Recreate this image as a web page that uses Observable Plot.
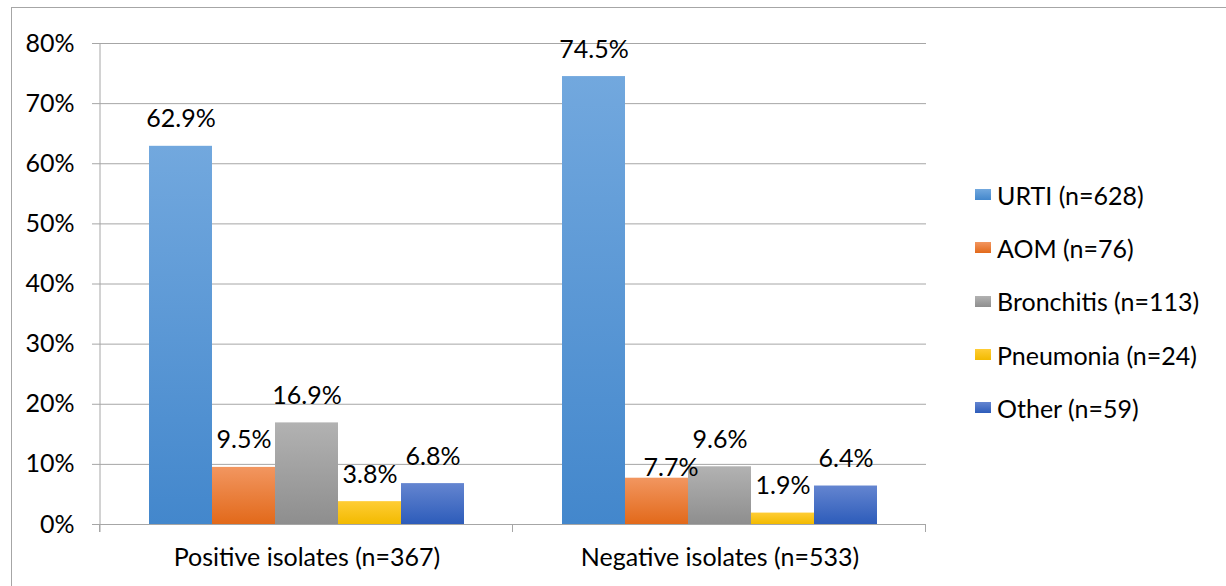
<!DOCTYPE html>
<html><head><meta charset="utf-8">
<script src="https://cdn.jsdelivr.net/npm/d3@7"></script>
<script src="https://cdn.jsdelivr.net/npm/@observablehq/plot@0.6"></script>
<style>
html,body{margin:0;padding:0;background:#fff;}
#wrap{position:relative;width:1226px;height:586px;overflow:hidden;font-family:Lato,"Liberation Sans",sans-serif;color:#000;}
#border{position:absolute;left:11px;top:7px;width:1400px;height:800px;border-left:1px solid #a6a6a6;border-top:1px solid #a6a6a6;}
#chart{position:absolute;left:0;top:0;}
#legend{position:absolute;left:975px;top:168px;}
.row{display:flex;align-items:center;height:53.3px;font-size:25px;white-space:nowrap;}
.sw{width:16px;height:11px;margin-right:6px;}
</style></head>
<body>
<div id="wrap"><div id="border"></div><div id="chart"></div><div id="legend"></div></div>
<script>
const groups = ["Positive isolates (n=367)", "Negative isolates (n=533)"];
const series = ["URTI (n=628)", "AOM (n=76)", "Bronchitis (n=113)", "Pneumonia (n=24)", "Other (n=59)"];
const positiveValues = [62.9, 9.5, 16.9, 3.8, 6.8];
const negativeValues = [74.5, 7.7, 9.6, 1.9, 6.4];
const yTicks = [0, 10, 20, 30, 40, 50, 60, 70, 80];
const colorsTop = ["#72a8de", "#f29660", "#b2b2b2", "#ffcd35", "#6485d0"];
const colorsBottom = ["#4387cc", "#e2691a", "#8e8e8e", "#f2ba00", "#2d5cba"];

const valuesByGroup = [positiveValues, negativeValues];
const rows = groups.flatMap((g, gi) => series.map((s, si) => ({group: g, series: s, value: valuesByGroup[gi][si]})));
const isNudged = d => d.group === groups[1] && d.series === series[1];
const fmt = d => d.value.toFixed(1) + "%";
const font = "Lato, 'Liberation Sans', sans-serif";

const chart = Plot.plot({
  width: 1226, height: 586,
  marginLeft: 100, marginRight: 300, marginTop: 43, marginBottom: 62,
  style: {fontFamily: font, color: "#000", background: "transparent"},
  fx: {domain: groups, padding: 0},
  x: {domain: series, paddingInner: 0, paddingOuter: 0.76, axis: null},
  y: {domain: [0, 80]},
  color: {domain: series, range: series.map((s, i) => `url(#grad${i})`)},
  marks: [
    Plot.gridY(yTicks, {stroke: "#a6a6a6", strokeOpacity: 1}),
    Plot.axisY(yTicks, {tickSize: 8, tickPadding: 18, stroke: "#a6a6a6", tickFormat: d => d + "%", fontSize: 25, label: null}),
    Plot.axisFx({anchor: "bottom", tickSize: 0, tickPadding: 24, fontSize: 25, label: null}),
    Plot.barY(rows, {fx: "group", x: "series", y: "value", fill: "series"}),
    Plot.ruleY([0], {stroke: "#a6a6a6"}),
    Plot.text(rows, {filter: d => !isNudged(d), fx: "group", x: "series", y: "value", text: fmt, dy: -27, lineAnchor: "middle", fontSize: 25, fill: "#000"}),
    Plot.text(rows, {filter: isNudged, fx: "group", x: "series", y: "value", text: fmt, dx: 14, dy: -10, lineAnchor: "middle", fontSize: 25, fill: "#000"})
  ]
});

const svg = d3.select(chart);
const defs = svg.insert("defs", ":first-child");
colorsTop.forEach((c, i) => {
  const g = defs.append("linearGradient").attr("id", "grad" + i).attr("x1", 0).attr("y1", 0).attr("x2", 0).attr("y2", 1);
  g.append("stop").attr("offset", "0%").attr("stop-color", c);
  g.append("stop").attr("offset", "100%").attr("stop-color", colorsBottom[i]);
});

// axis line and group boundary ticks from the library's scales
const ys = chart.scale("y"), fxs = chart.scale("fx");
const y = d3.scaleLinear(ys.domain, ys.range);
const fxr = d3.extent(fxs.range);
const fx = d3.scaleBand(fxs.domain, fxr).padding(0);
const bounds = [fxr[0], ...groups.map(g => fx(g) + fx.bandwidth())];
const ag = svg.append("g").attr("stroke", "#a6a6a6").attr("stroke-width", 1);
ag.append("line").attr("x1", bounds[0]).attr("x2", bounds[0]).attr("y1", y(80)).attr("y2", y(0) + 8);
bounds.forEach(b => ag.append("line").attr("x1", b - 0.5).attr("x2", b - 0.5).attr("y1", y(0)).attr("y2", y(0) + 8));

document.getElementById("chart").appendChild(chart);

const legend = d3.select("#legend");
series.forEach((s, i) => {
  const r = legend.append("div").attr("class", "row");
  r.append("div").attr("class", "sw").style("background", `linear-gradient(${colorsTop[i]}, ${colorsBottom[i]})`);
  r.append("span").text(s);
});
</script>
</body></html>
